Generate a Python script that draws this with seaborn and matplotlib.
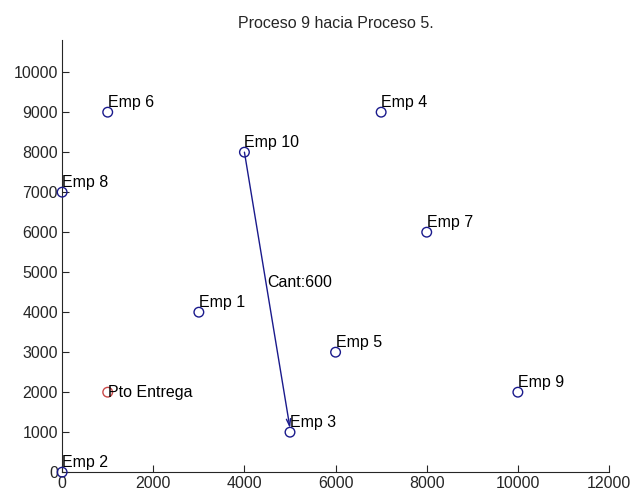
import pandas as pd
import matplotlib
matplotlib.use('Agg')
import matplotlib.pyplot as plt
import seaborn as sns

# Coordenadas de las empresas
emp_names = ['Emp 1', 'Emp 2', 'Emp 3', 'Emp 4', 'Emp 5',
             'Emp 6', 'Emp 7', 'Emp 8', 'Emp 9', 'Emp 10']
emp_x = [3000, 0, 5000, 7000, 6000, 1000, 8000, 0, 10000, 4000]
emp_y = [4000, 0, 1000, 9000, 3000, 9000, 6000, 7000, 2000, 8000]

# Punto de entrega
entrega_name = 'Pto Entrega'
entrega_x = [1000]
entrega_y = [2000]

# Ruta: Emp 10 -> Emp 3
ruta_desde = 'Emp 10'
ruta_hasta = 'Emp 3'
ruta_label = 'Cant:600'

title = 'Proceso 9 hacia Proceso 5.'
x_ticks = [0, 2000, 4000, 6000, 8000, 10000, 12000]
y_ticks = [0, 1000, 2000, 3000, 4000, 5000, 6000, 7000, 8000, 9000, 10000]

emp_df = pd.DataFrame({'name': emp_names, 'x': emp_x, 'y': emp_y})
entrega_df = pd.DataFrame({'x': entrega_x, 'y': entrega_y})

sns.set_style('ticks')
plt.rcParams['font.family'] = ['Liberation Sans', 'DejaVu Sans']
plt.rcParams['xtick.direction'] = 'in'
plt.rcParams['ytick.direction'] = 'in'

blue = '#1a1a8c'
red = '#c84848'

fig = plt.figure(figsize=(6.34, 4.96), dpi=100)
ax = fig.add_axes([0.098, 0.048, 0.8626, 0.871])

# linea de la ruta
p0 = emp_df.loc[emp_df['name'] == ruta_desde].iloc[0]
p1 = emp_df.loc[emp_df['name'] == ruta_hasta].iloc[0]
ax.annotate('', xy=(p1['x'], p1['y'] + 100), xytext=(p0['x'], p0['y']),
            arrowprops=dict(arrowstyle='->,head_length=0.5,head_width=0.15',
                            color=blue, lw=1.0, shrinkA=0, shrinkB=0))
ax.text((p0['x'] + p1['x']) / 2, (p0['y'] + p1['y']) / 2 + 250, ruta_label,
        ha='left', va='center', fontsize=11.5, color='black')

sns.scatterplot(data=emp_df, x='x', y='y', ax=ax, marker='o', s=48,
                facecolor='none', edgecolor=blue, linewidth=1.0,
                clip_on=False, zorder=3)
sns.scatterplot(data=entrega_df, x='x', y='y', ax=ax, marker='o', s=48,
                facecolor='none', edgecolor=red, linewidth=1.0,
                clip_on=False, zorder=3)

for _, r in emp_df.iterrows():
    ax.text(r['x'], r['y'] + 250, r['name'], ha='left', va='center',
            fontsize=11.5, color='black')
ax.text(entrega_x[0], entrega_y[0], entrega_name, ha='left', va='center',
        fontsize=11.5, color='black')

ax.set_xlim(0, 12000)
ax.set_ylim(0, 10800)
ax.set_xticks(x_ticks)
ax.set_yticks(y_ticks)
ax.tick_params(labelsize=11.5, length=5, width=0.8, pad=3)
ax.set_xlabel('')
ax.set_ylabel('')
ax.set_title(title, fontsize=11.5, pad=9)
sns.despine(ax=ax)

fig.savefig('out.png', dpi=100)
